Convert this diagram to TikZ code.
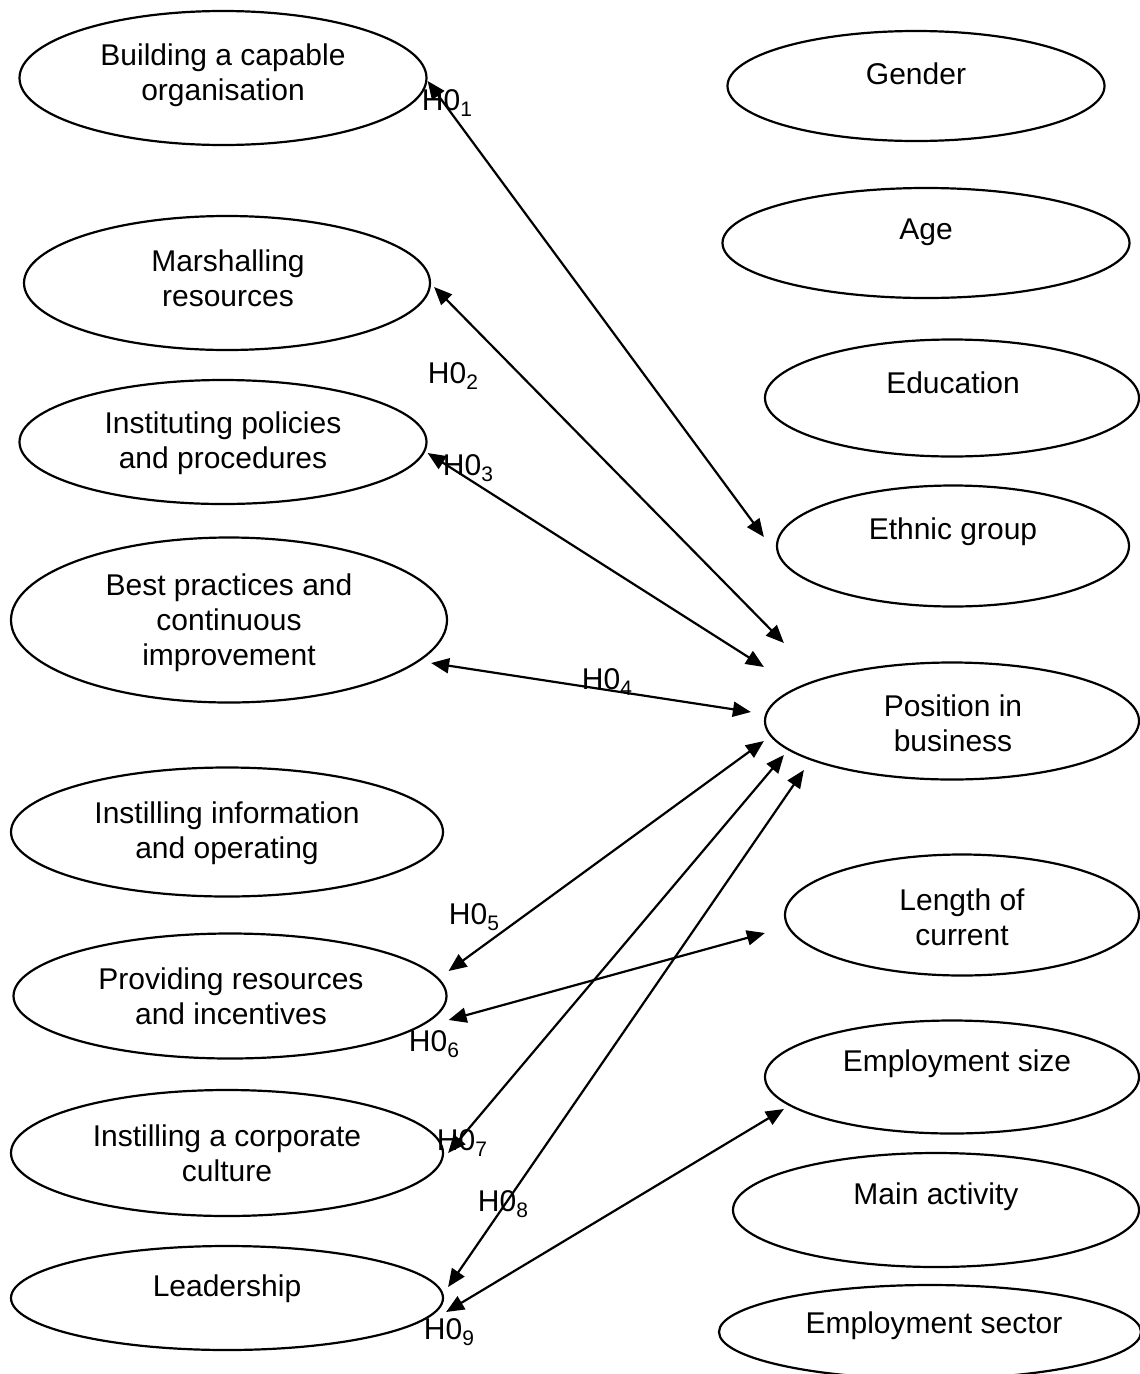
\documentclass[tikz,border=0pt]{standalone}
\usepackage{fontspec}
\setmainfont{Liberation Sans}
\usetikzlibrary{arrows.meta,shapes.geometric}
\newcommand{\hsub}[1]{\raisebox{-0.2em}{\fontsize{21}{21}\selectfont #1}}
\begin{document}
\begin{tikzpicture}[x=1pt,y=-1pt,
  oval/.style 2 args={draw, ellipse, line width=2.2pt, inner sep=0pt,
    minimum width=#1, minimum height=#2},
  txt/.style={align=center, inner sep=0pt, font=\fontsize{30}{35}\selectfont},
  hl/.style={inner sep=0pt, font=\fontsize{30}{35}\selectfont},
  link/.style={line width=2.2pt, {Triangle[length=18pt,width=15pt]}-{Triangle[length=18pt,width=15pt]}}]
\useasboundingbox (0,0) rectangle (1140,1374);
\clip (0,0) rectangle (1140,1374);
\fill[white] (0,0) rectangle (1140,1374);

% left ellipses
\node[oval={407}{134}] (bco) at (223,78) {};
\node[oval={406}{134}] (mr)  at (227,283) {};
\node[oval={407}{124}] (ipp) at (223,442) {};
\node[oval={436}{165}] (bpc) at (229,620) {};
\node[oval={432}{129}] (iio) at (227,832) {};
\node[oval={433}{125}] (pri) at (230,996) {};
\node[oval={432}{126}] (icc) at (227,1153) {};
\node[oval={432}{104}] (lead) at (227,1298) {};

% right ellipses
\node[oval={377}{110}] (gen)  at (916,86) {};
\node[oval={407}{110}] (age)  at (926,243) {};
\node[oval={374}{117}] (edu)  at (952,398) {};
\node[oval={352}{121}] (eth)  at (953,546) {};
\node[oval={374}{117}] (pos)  at (952,721) {};
\node[oval={354}{121}] (loc)  at (962,915) {};
\node[oval={374}{113}] (esz)  at (952,1077) {};
\node[oval={406}{114}] (mact) at (936,1210) {};
\node[oval={422}{94}]  (esec) at (930,1332) {};

% texts
\node[txt] (bcoT) at (223,75) {Building a capable\\organisation};
\node[txt] (mrT)  at (228,278) {Marshalling\\resources};
\node[txt] (ippT) at (223,443) {Instituting policies\\and procedures};
\node[txt] (bpcT) at (229,623) {Best practices and\\continuous\\improvement};
\node[txt] (iioT) at (227,833) {Instilling information\\and operating};
\node[txt] (priT) at (231,996) {Providing resources\\and incentives};
\node[txt] (iccT) at (227,1153) {Instilling a corporate\\culture};
\node[txt] (leadT) at (227,1289) {Leadership};
\node[txt] (genT) at (916,74) {Gender};
\node[txt] (ageT) at (926,232) {Age};
\node[txt] (eduT) at (953,383) {Education};
\node[txt] (ethT) at (953,532) {Ethnic group};
\node[txt] (posT) at (953,723) {Position in\\business};
\node[txt] (locT) at (962,917) {Length of\\current};
\node[txt] (eszT) at (957,1064) {Employment size};
\node[txt] (mactT) at (936,1197) {Main activity};
\node[txt] (esecT) at (934,1326) {Employment sector};

% connectors
\draw[link] ([shift={(0,3)}]bco.east) -- ([shift={(-12,-9)}]eth.west);
\draw[link] ([shift={(3,4)}]mr.east) -- ([shift={(20,-78)}]pos.west);
\draw[link] ([shift={(0,11)}]ipp.east) -- ([shift={(0,-54)}]pos.west);
\draw[link] ([shift={(-17,43)}]bpc.east) -- ([shift={(-13,-9)}]pos.west);
\draw[link] ([shift={(1,-25)}]pri.east) -- ([shift={(0,20)}]pos.west);
\draw[link] ([shift={(1,24)}]pri.east) -- ([shift={(-19,18)}]loc.west);
\draw[link] ([shift={(4,0)}]icc.east) -- ([shift={(20,34)}]pos.west);
\draw[link] ([shift={(4,-11)}]lead.east) -- ([shift={(40,49)}]pos.west);
\draw[link] ([shift={(2,14)}]lead.east) -- ([shift={(20,32)}]esz.west);

% hypothesis labels
\node[hl] (h1) at (447,103) {H0\hsub{1}};
\node[hl] (h2) at (453,376) {H0\hsub{2}};
\node[hl] (h3) at (468,468) {H0\hsub{3}};
\node[hl] (h4) at (607,682) {H0\hsub{4}};
\node[hl] (h5) at (474,917) {H0\hsub{5}};
\node[hl] (h6) at (434,1044) {H0\hsub{6}};
\node[hl] (h7) at (462,1143) {H0\hsub{7}};
\node[hl] (h8) at (503,1204) {H0\hsub{8}};
\node[hl] (h9) at (449,1332) {H0\hsub{9}};
\end{tikzpicture}
\end{document}
